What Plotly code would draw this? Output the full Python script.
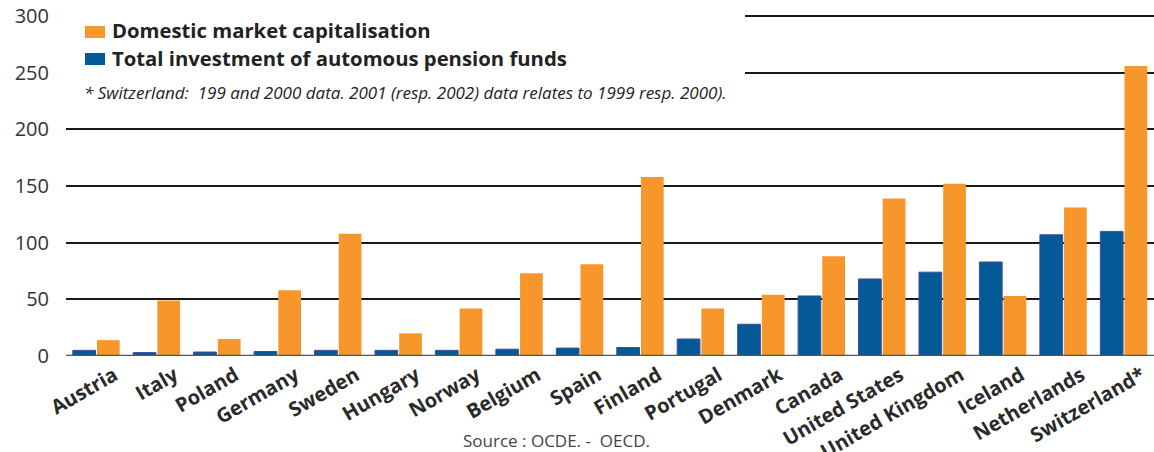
import plotly.graph_objects as go

countries = ["Austria", "Italy", "Poland", "Germany", "Sweden", "Hungary", "Norway",
             "Belgium", "Spain", "Finland", "Portugal", "Denmark", "Canada",
             "United States", "United Kingdom", "Iceland", "Netherlands", "Switzerland*"]
market_cap = [14, 49, 15, 58, 108, 20, 42, 73, 81, 158, 42, 54, 88, 139, 152, 53, 131, 256]
pension = [5, 3, 3.5, 4, 5, 5, 5, 6, 7, 7.5, 15, 28, 53, 68, 74, 83, 107, 110]
y_ticks = [0, 50, 100, 150, 200, 250, 300]
legend_labels = ["Domestic market capitalisation", "Total investment of automous pension funds"]
footnote = "* Switzerland:  199 and 2000 data. 2001 (resp. 2002) data relates to 1999 resp. 2000)."
source = "Source : OCDE. -  OECD."

W, H = 1154, 452
L, R, T, B = 66, 0, 15, 96
pw = W - L - R
ph = H - T - B

ORANGE = "#f7962b"
BLUE = "#045a96"
FONT = "Open Sans"


def px(x):
    return (x - L) / pw


def py(y):
    return (H - B - y) / ph


fig = go.Figure()
fig.add_trace(go.Bar(
    x=countries, y=pension, name=legend_labels[1], showlegend=False,
    marker=dict(color=BLUE, line=dict(color="#3b4d9e", width=1))))
fig.add_trace(go.Bar(
    x=countries, y=market_cap, name=legend_labels[0], showlegend=False,
    marker=dict(color=ORANGE, line=dict(width=0))))

shapes = [
    # white mask behind legend area covering top gridlines (plot area only)
    dict(type="rect", xref="paper", yref="paper", layer="above",
         x0=0, x1=px(745), y0=py(110), y1=py(0),
         fillcolor="white", line=dict(width=0)),
    # baseline
    dict(type="line", xref="paper", yref="y", layer="above",
         x0=0, x1=1.0, y0=0, y1=0, line=dict(color="#555555", width=2.5)),
    # legend swatches
    dict(type="rect", xref="paper", yref="paper", layer="above",
         x0=px(85), x1=px(105), y0=py(38), y1=py(26), fillcolor=ORANGE, line=dict(width=0)),
    dict(type="rect", xref="paper", yref="paper", layer="above",
         x0=px(85), x1=px(105), y0=py(65), y1=py(53), fillcolor=BLUE, line=dict(width=0)),
]

annotations = [
    dict(text="<b>%s</b>" % legend_labels[0], xref="paper", yref="paper",
         x=px(110), y=py(30), xanchor="left", yanchor="middle", showarrow=False,
         font=dict(family=FONT, size=20.3, color="#222222")),
    dict(text="<b>%s</b>" % legend_labels[1], xref="paper", yref="paper",
         x=px(110), y=py(58), xanchor="left", yanchor="middle", showarrow=False,
         font=dict(family=FONT, size=20.3, color="#222222")),
    dict(text="<i>%s</i>" % footnote, xref="paper", yref="paper",
         x=px(82), y=py(92), xanchor="left", yanchor="middle", showarrow=False,
         font=dict(family=FONT, size=17, color="#222222")),
    dict(text=source, xref="paper", yref="paper",
         x=px(556), y=py(440), xanchor="center", yanchor="middle",
         showarrow=False, font=dict(family=FONT, size=17, color="#444444")),
]

fig.update_layout(
    width=W, height=H,
    margin=dict(l=L, r=R, t=T, b=B, autoexpand=False),
    paper_bgcolor="white", plot_bgcolor="white",
    barmode="group", bargap=0.2, bargroupgap=0.06,
    showlegend=False,
    font=dict(family=FONT, color="#333333"),
    xaxis=dict(tickangle=-30, tickfont=dict(family=FONT, size=20, color="#2a2a2a", weight="bold"),
               showgrid=False, ticks="", showline=False, ticklabelshift=18, ticklabelstandoff=3,
               automargin=False),
    yaxis=dict(range=[0, 301], tickvals=y_ticks, showgrid=True, gridcolor="#1a1a1a", gridwidth=1.5,
               zeroline=False, tickfont=dict(family=FONT, size=20, color="#333333"),
               ticklabelstandoff=16, automargin=False),
    shapes=shapes,
    annotations=annotations,
)

fig.write_html("out.html")
